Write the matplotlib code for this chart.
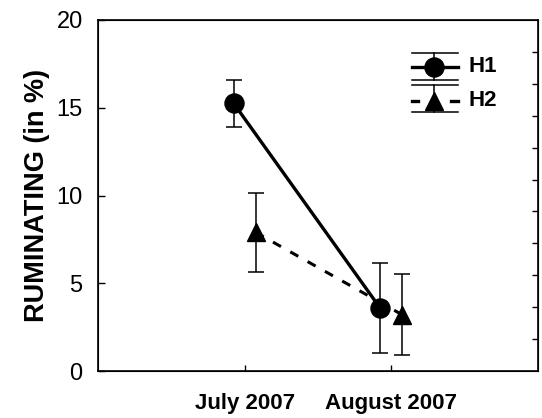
import matplotlib
matplotlib.use("Agg")
import matplotlib.pyplot as plt
import numpy as np

plt.rcParams['font.family'] = ['Liberation Sans', 'DejaVu Sans']

categories = ["July 2007", "August 2007"]
h1_mean = [15.25, 3.57]
h1_err = [1.33, 2.56]
h2_mean = [7.9, 3.2]
h2_err = [2.25, 2.3]
offset = 0.075

fig = plt.figure(figsize=(5.42, 4.18), dpi=100)
ax = fig.add_axes([98/542, 47/418, 440/542, 351/418])

x = np.arange(1, len(categories) + 1)

ax.errorbar(x + offset, h2_mean, yerr=h2_err, fmt='none', ecolor='black',
            elinewidth=1.1, capsize=5.5, capthick=1.1, zorder=2)
ax.plot(x + offset, h2_mean, color='black', lw=2.2, ls=(0, (3, 3.5)),
        marker='^', ms=13, zorder=3)
ax.errorbar(x - offset, h1_mean, yerr=h1_err, fmt='none', ecolor='black',
            elinewidth=1.1, capsize=5.5, capthick=1.1, zorder=4)
ax.plot(x - offset, h1_mean, color='black', lw=2.4, ls='-',
        marker='o', ms=13.7, zorder=5)

ax.set_xlim(0, 3)
ax.set_ylim(0, 20)
ax.set_xticks(x)
ax.set_xticklabels(categories, fontsize=16, fontweight='bold')
ax.set_yticks([0, 5, 10, 15, 20])
ax.tick_params(axis='y', direction='in', length=5, width=1, labelsize=17, pad=11)
ax.tick_params(axis='x', direction='in', length=4, width=1, pad=16)
ax.set_ylabel("RUMINATING (in %)", fontsize=19.5, fontweight='bold', labelpad=5)
for s in ax.spines.values():
    s.set_linewidth(1.2)

# right axis inner ticks
ax2 = ax.twinx()
ax2.set_ylim(0, 11)
ax2.set_yticks(np.arange(1, 11))
ax2.tick_params(axis='y', direction='in', length=4, width=1, labelright=False)

# manual legend
T = ax.transAxes
def fx(px):
    return (px - 98) / 440
def fy(py):
    return (371 - py) / 351
lx0, lx1, lxm = fx(412), fx(458), fx(434)
# H1
y1 = fy(67)
ax.plot([lx0, lx1], [fy(53), fy(53)], transform=T, color='black', lw=1.1, clip_on=False)
ax.plot([lx0, lx1], [fy(80), fy(80)], transform=T, color='black', lw=1.1, clip_on=False)
ax.plot([lxm, lxm], [fy(53), fy(80)], transform=T, color='black', lw=1.1, clip_on=False)
ax.plot([lx0, lx1], [y1, y1], transform=T, color='black', lw=2.4, clip_on=False)
ax.plot([lxm], [y1], transform=T, color='black', marker='o', ms=13.7, clip_on=False)
ax.text(fx(469), y1, "H1", transform=T, fontsize=16, fontweight='bold',
        va='center', ha='left')
# H2
y2 = fy(101)
ax.plot([lx0, lx1], [fy(85), fy(85)], transform=T, color='black', lw=1.1, clip_on=False)
ax.plot([lx0, lx1], [fy(112), fy(112)], transform=T, color='black', lw=1.1, clip_on=False)
ax.plot([lxm, lxm], [fy(85), fy(112)], transform=T, color='black', lw=1.1, clip_on=False)
ax.plot([lx0, fx(418)], [y2, y2], transform=T, color='black', lw=2.4, clip_on=False)
ax.plot([fx(451), lx1], [y2, y2], transform=T, color='black', lw=2.4, clip_on=False)
ax.plot([lxm], [y2], transform=T, color='black', marker='^', ms=13, clip_on=False)
ax.text(fx(469), y2, "H2", transform=T, fontsize=16, fontweight='bold',
        va='center', ha='left')

fig.savefig("out.png", dpi=100)
